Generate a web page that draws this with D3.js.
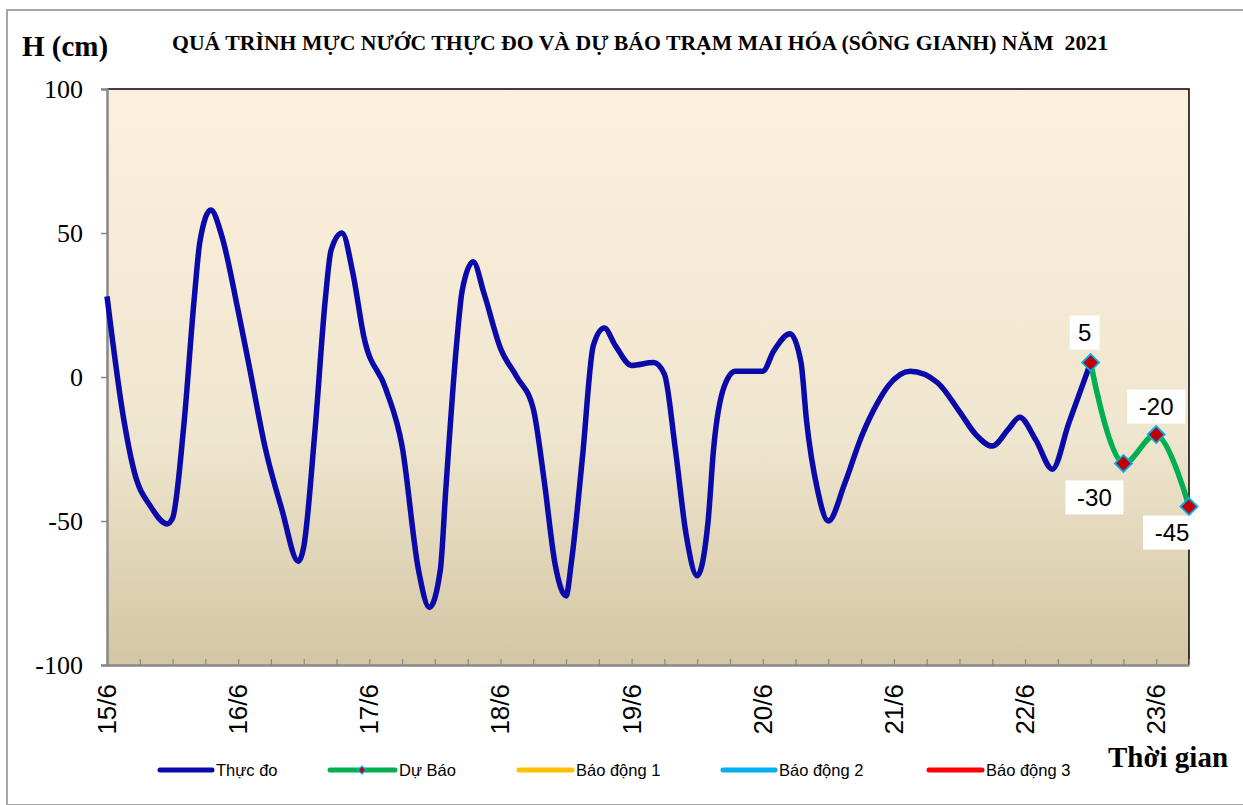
<!DOCTYPE html>
<html>
<head>
<meta charset="utf-8">
<script src="https://cdn.jsdelivr.net/npm/d3@7"></script>
<style>
  body { margin: 0; background: #fff; }
  svg { display: block; }
</style>
</head>
<body>
<div id="chart"></div>
<script>
// hours counted from 15/6 00h
var obsHours = [0, 3, 5, 8, 11, 12, 14, 16, 17, 19, 21, 24, 26, 29, 32, 35, 36, 38, 40, 41, 43, 45, 47,
  51, 54, 57, 59, 61, 62, 64, 65, 67, 69, 72, 75, 78, 80, 82, 84, 85, 87, 89, 91, 93, 96,
  100, 102, 104, 106, 108, 110, 111, 113, 115, 120, 122, 125, 127, 128, 130, 132, 135, 138, 141, 143,
  147, 152, 156, 159, 162, 165, 167, 170, 173, 176, 180];
var obsLevels = [28, -14, -33, -45, -51, -49, -18, 28, 47, 58, 49, 23, 4, -25, -46, -64, -59, -20, 28, 44, 50, 36, 14,
  -4, -24, -67, -80, -67, -39, 12, 30, 40, 29, 10, 0, -11, -36, -65, -76, -64, -28, 11, 17, 11, 4,
  5, 1, -25, -55, -69, -50, -25, -3, 2, 2, 9, 15, 5, -15, -39, -50, -37, -21, -9, -3,
  2, -2, -12, -20, -24, -18, -14, -22, -32, -16, 5];

var fcHours = [180, 186, 192, 198];
var fcLevels = [5, -30, -20, -45];

var dayLabels = ['15/6', '16/6', '17/6', '18/6', '19/6', '20/6', '21/6', '22/6', '23/6'];
var yTicks = [-100, -50, 0, 50, 100];

var legendNames = ['Thực đo', 'Dự Báo', 'Báo động 1', 'Báo động 2', 'Báo động 3'];
var legendColors = ['#0a0aaa', '#00b050', '#ffc000', '#00b0f0', '#ff0000'];

var W = 1243, H = 805;
var plot = {left: 107, right: 1189, top: 89, bottom: 665};
var serif = '"Liberation Serif", "Times New Roman", serif';
var sans = '"Liberation Sans", Arial, sans-serif';

var svg = d3.select('#chart').append('svg')
    .attr('width', W)
    .attr('height', H);

// outer frame
svg.append('rect')
  .attr('x', 7).attr('y', 10)
  .attr('width', 1240).attr('height', 795)
  .attr('fill', '#fff')
  .attr('stroke', '#a6a6a6')
  .attr('stroke-width', 2);

var defs = svg.append('defs');
var grad = defs.append('linearGradient')
  .attr('id', 'bg').attr('x1', 0).attr('y1', 0).attr('x2', 0).attr('y2', 1);
grad.append('stop').attr('offset', '0%').attr('stop-color', '#fdf0dc');
grad.append('stop').attr('offset', '60%').attr('stop-color', '#efe6cf');
grad.append('stop').attr('offset', '100%').attr('stop-color', '#d4c6a4');

var x = d3.scaleLinear().domain([0, 198]).range([plot.left, plot.right]);
var y = d3.scaleLinear().domain([-100, 100]).range([plot.bottom, plot.top]);

svg.append('rect')
  .attr('x', plot.left).attr('y', plot.top)
  .attr('width', plot.right - plot.left)
  .attr('height', plot.bottom - plot.top)
  .attr('fill', 'url(#bg)');

// top and right border of plot area
svg.append('path')
  .attr('d', 'M' + plot.left + ',' + plot.top + 'H' + plot.right + 'V' + plot.bottom)
  .attr('fill', 'none')
  .attr('stroke', '#000')
  .attr('stroke-width', 1.5);

// Y axis
var yAxis = svg.append('g')
  .attr('transform', 'translate(' + plot.left + ',0)')
  .call(d3.axisLeft(y).tickValues(yTicks).tickSize(6).tickPadding(18)
    .tickFormat(function(d) { return String(d); }));
yAxis.attr('font-family', null).attr('font-size', null);
yAxis.select('.domain').attr('stroke', '#888').attr('stroke-width', 2.5);
yAxis.selectAll('.tick line').attr('stroke', '#888').attr('stroke-width', 1.5);
yAxis.selectAll('.tick text')
  .style('font-family', serif)
  .style('font-size', '26px')
  .attr('fill', '#000');

// X axis: minor ticks every 6 hours, inside the plot
var xAxis = svg.append('g')
  .attr('transform', 'translate(0,' + plot.bottom + ')')
  .call(d3.axisBottom(x).tickValues(d3.range(0, 199, 6)).tickSizeInner(-6).tickSizeOuter(0).tickFormat(''));
xAxis.select('.domain').attr('stroke', '#888').attr('stroke-width', 2.5);
xAxis.selectAll('.tick line').attr('stroke', '#888').attr('stroke-width', 1.2);

svg.append('g').selectAll('text')
  .data(dayLabels)
  .enter()
    .append('text')
      .text(function(d) { return d; })
      .attr('transform', function(d, i) {
        return 'translate(' + (x(i * 24) + 9) + ',' + (plot.bottom + 19) + ') rotate(-90)';
      })
      .attr('text-anchor', 'end')
      .attr('font-family', sans)
      .attr('font-size', 26)
      .attr('fill', '#000');

// lines
var line = d3.line()
  .x(function(d) { return x(d[0]); })
  .y(function(d) { return y(d[1]); })
  .curve(d3.curveMonotoneX);

var obs = obsHours.map(function(h, i) { return [h, obsLevels[i]]; });
var fc = fcHours.map(function(h, i) { return [h, fcLevels[i]]; });

svg.append('path')
  .attr('d', line(obs))
  .attr('fill', 'none')
  .attr('stroke', legendColors[0])
  .attr('stroke-width', 5.5)
  .attr('stroke-linejoin', 'round');

svg.append('path')
  .attr('d', line.curve(d3.curveCatmullRom.alpha(0.5))(fc))
  .attr('fill', 'none')
  .attr('stroke', legendColors[1])
  .attr('stroke-width', 5.5)
  .attr('stroke-linejoin', 'round');

var diamond = function(cx, cy, r) {
  return 'M' + cx + ',' + (cy - r) + 'L' + (cx + r) + ',' + cy +
    'L' + cx + ',' + (cy + r) + 'L' + (cx - r) + ',' + cy + 'Z';
};

svg.append('g').selectAll('path')
  .data(fc)
  .enter()
    .append('path')
      .attr('d', function(d) { return diamond(x(d[0]), y(d[1]), 8.5); })
      .attr('fill', '#c00000')
      .attr('stroke', '#00b0f0')
      .attr('stroke-width', 1.8);

// data labels with white boxes
var labelOffsets = [[-6, -30], [-29, 34], [0, -28], [-17, 26]];
var labels = svg.append('g').selectAll('g')
  .data(fc)
  .enter()
    .append('g')
      .attr('transform', function(d, i) {
        return 'translate(' + (x(d[0]) + labelOffsets[i][0]) + ',' + (y(d[1]) + labelOffsets[i][1]) + ')';
      });
labels.append('rect')
  .attr('x', function(d) { return -(String(d[1]).length * 14 + 16) / 2; })
  .attr('y', -17)
  .attr('width', function(d) { return String(d[1]).length * 14 + 16; })
  .attr('height', 34)
  .attr('fill', '#fff');
labels.append('text')
  .text(function(d) { return d[1]; })
  .attr('text-anchor', 'middle')
  .attr('dy', '0.36em')
  .attr('font-family', sans)
  .attr('font-size', 24)
  .attr('fill', '#000');

// titles
svg.append('text')
  .text('H (cm)')
  .attr('x', 22).attr('y', 56)
  .attr('font-family', serif)
  .attr('font-weight', 'bold')
  .attr('font-size', 29);

svg.append('text')
  .text('QUÁ TRÌNH MỰC NƯỚC THỰC ĐO VÀ DỰ BÁO TRẠM MAI HÓA (SÔNG GIANH) NĂM  2021')
  .attr('x', 172).attr('y', 50)
  .attr('xml:space', 'preserve')
  .attr('textLength', 936)
  .attr('lengthAdjust', 'spacingAndGlyphs')
  .attr('font-family', serif)
  .attr('font-weight', 'bold')
  .attr('font-size', 20);

svg.append('text')
  .text('Thời gian')
  .attr('x', 1108).attr('y', 767)
  .attr('font-family', serif)
  .attr('font-weight', 'bold')
  .attr('font-size', 29);

// legend
var legendX = [160, 330, 519, 723, 929];
var legendLen = [52, 65, 53, 52, 53];
var legend = svg.append('g').selectAll('g')
  .data(legendNames)
  .enter()
    .append('g')
      .attr('transform', function(d, i) { return 'translate(' + legendX[i] + ',770)'; });
legend.append('line')
  .attr('x1', 0)
  .attr('x2', function(d, i) { return legendLen[i]; })
  .attr('stroke', function(d, i) { return legendColors[i]; })
  .attr('stroke-width', 5)
  .attr('stroke-linecap', 'round');
legend.filter(function(d, i) { return i == 1; })
  .append('path')
  .attr('d', diamond(32, 0, 4))
  .attr('fill', '#c00000')
  .attr('stroke', '#00b0f0')
  .attr('stroke-width', 1.2);
legend.append('text')
  .text(function(d) { return d; })
  .attr('x', function(d, i) { return legendLen[i] + 4; })
  .attr('dy', '0.35em')
  .attr('font-family', sans)
  .attr('font-size', 16.5)
  .attr('fill', '#000');
</script>
</body>
</html>
